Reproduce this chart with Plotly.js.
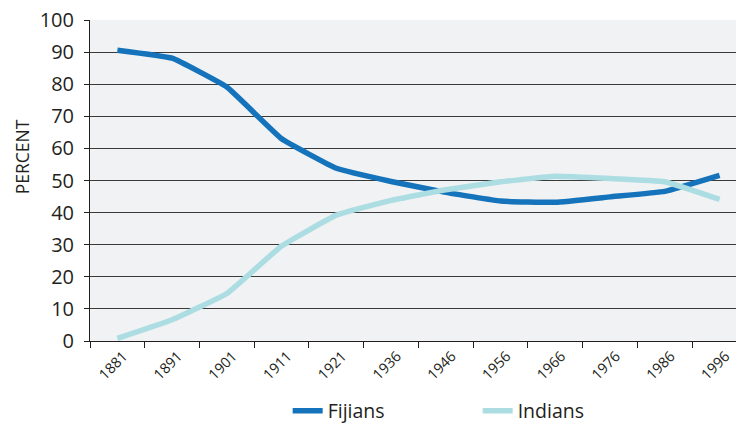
<!DOCTYPE html>
<html><head><meta charset="utf-8">
<script src="https://cdn.plot.ly/plotly-3.0.1.min.js"></script>
<style>html,body{margin:0;padding:0;background:#fff;overflow:hidden}</style>
</head><body><div id="chart" style="width:736px;height:426px"></div>
<script>
const years = ["1881","1891","1901","1911","1921","1936","1946","1956","1966","1976","1986","1996"];
const fijians = [90.6, 88.1, 79.1, 63.0, 53.8, 49.7, 46.3, 43.6, 43.2, 44.9, 46.6, 51.6];
const indians = [0.8, 6.6, 14.8, 29.6, 39.2, 43.8, 47.1, 49.6, 51.3, 50.6, 49.6, 44.1];
const yTicks = [0,10,20,30,40,50,60,70,80,90,100];

const font = "'Open Sans', Lato, sans-serif";
const textColor = "#231f20";
const traces = [
  {x: years, y: fijians, name: "Fijians", type: "scatter", mode: "lines",
   line: {color: "#1473ba", width: 5.5, shape: "spline", smoothing: 0.3}},
  {x: years, y: indians, name: "Indians", type: "scatter", mode: "lines",
   line: {color: "#acdde2", width: 5.5, shape: "spline", smoothing: 0.3}}
];
const layout = {
  width: 736, height: 426,
  margin: {l: 90, r: 0, t: 20, b: 85},
  paper_bgcolor: "#ffffff",
  plot_bgcolor: "#f1f2f4",
  font: {family: font, color: textColor},
  showlegend: true,
  legend: {orientation: "h", x: 0.306, xanchor: "left", xref: "paper",
           y: 0.035, yanchor: "middle", yref: "container",
           font: {size: 19.5, color: textColor}, entrywidth: 145, traceorder: "normal"},
  xaxis: {type: "category", range: [-0.5, 11.3], tickangle: -45,
          tickson: "boundaries", ticks: "outside", ticklen: 6, tickcolor: textColor,
          showgrid: false, showline: true, linecolor: textColor, linewidth: 1,
          ticklabelshift: 6,
          tickfont: {size: 14.5, color: textColor}, zeroline: false, fixedrange: true},
  yaxis: {range: [0, 100], tickvals: yTicks, ticktext: yTicks.map(String),
          ticks: "outside", ticklen: 5, tickcolor: textColor,
          showgrid: true, gridcolor: "#3a3a3a", gridwidth: 1,
          showline: true, linecolor: textColor, linewidth: 1, zeroline: false,
          ticklabelstandoff: 6,
          tickfont: {size: 20, color: textColor}},
  annotations: [{text: "PERCENT", xref: "paper", yref: "paper", x: -0.105, y: 0.573,
                 xanchor: "center", yanchor: "middle", textangle: -90, showarrow: false,
                 font: {size: 17.5, color: textColor}}]
};
Plotly.newPlot("chart", traces, layout, {displayModeBar: false, staticPlot: true});
</script></body></html>
